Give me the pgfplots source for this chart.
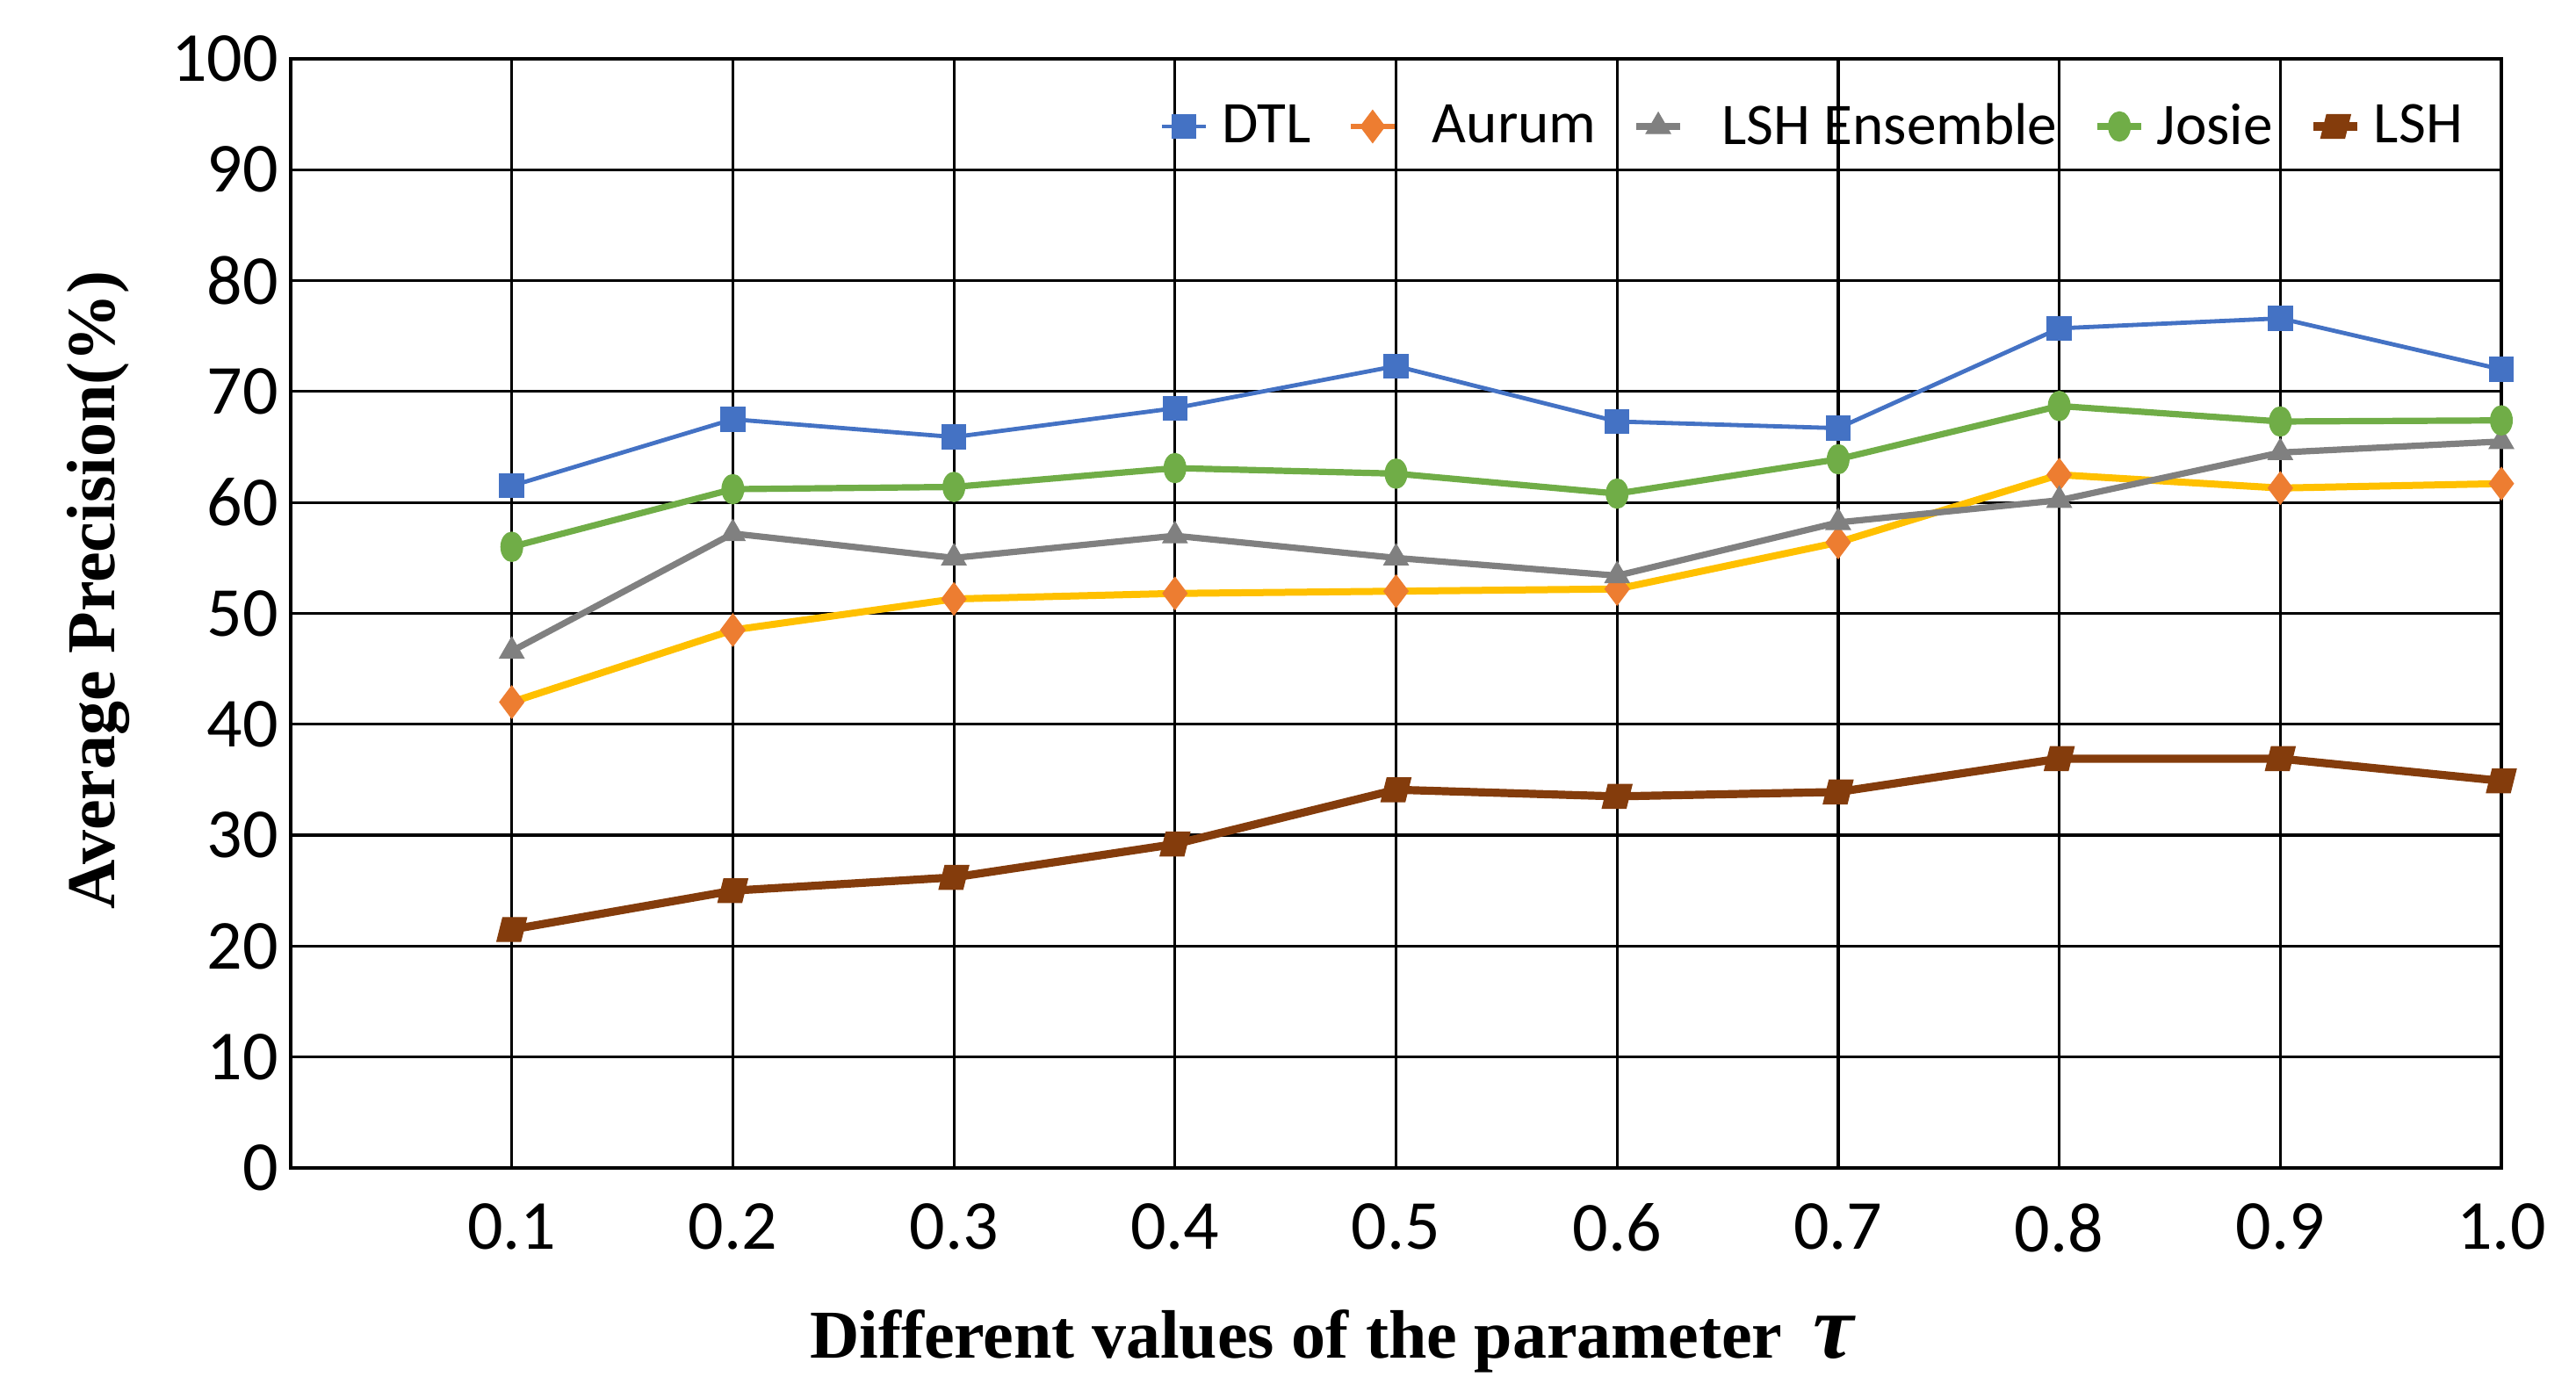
\documentclass[border=0pt]{standalone}
\usepackage{pgfplots}
\pgfplotsset{compat=1.18}
\usepackage{pgfplotstable}
\usepackage{fontspec}
\setmainfont{Carlito}
\newfontfamily\timesfont{Liberation Serif}

\definecolor{dtlblue}{HTML}{4472C4}
\definecolor{aurumyellow}{HTML}{FFC000}
\definecolor{aurumorange}{HTML}{ED7D31}
\definecolor{ensgray}{HTML}{808080}
\definecolor{josiegreen}{HTML}{70AD47}
\definecolor{lshbrown}{HTML}{843C0C}

% precision (%) for each tau
\pgfplotstableread{
x   DTL  Aurum Ens  Josie LSH
0.1 61.5 42.0 46.6 56.0 21.5
0.2 67.5 48.5 57.2 61.2 25.0
0.3 65.9 51.3 55.0 61.4 26.2
0.4 68.5 51.8 57.0 63.1 29.2
0.5 72.3 52.0 55.0 62.6 34.1
0.6 67.3 52.2 53.4 60.8 33.5
0.7 66.7 56.4 58.2 63.9 33.9
0.8 75.7 62.5 60.2 68.7 36.9
0.9 76.6 61.3 64.5 67.3 36.9
1.0 72.0 61.7 65.5 67.4 34.9
}\data

\begin{document}
\begin{tikzpicture}
\begin{axis}[
    width=629.25pt, height=315.75pt, scale only axis,
    xmin=0, xmax=1, ymin=0, ymax=100,
    xtick={0.1,0.2,0.3,0.4,0.5,0.6,0.7,0.8,0.9,1.0},
    xticklabels={0.1,0.2,0.3,0.4,0.5,0.6,0.7,0.8,0.9,1.0},
    ytick={0,10,...,100},
    grid=major,
    major grid style={black, line width=0.8pt},
    axis line style={black, line width=1.1pt},
    major tick length=0pt,
    tick label style={font=\fontsize{20}{24}\selectfont},
    /pgf/number format/assume math mode=true,
    xticklabel style={yshift=-6.6pt},
    xlabel={\timesfont\bfseries Different values of the parameter\hspace{0.45em}{\fontsize{26}{28}\selectfont\itshape τ}},
    ylabel={\timesfont\bfseries Average Precision(\%)},
    label style={font=\fontsize{19.5}{22}\selectfont},
    xlabel style={at={(axis description cs:0.471,-0.156)}, anchor=center},
    ylabel style={at={(axis description cs:-0.087,0.521)}, anchor=center, rotate=0},
    legend columns=5,
    legend cell align=left,
    legend style={at={(axis description cs:0.986,0.939)}, anchor=east,
        draw=none, fill=none, inner sep=0pt,
        font=\fontsize{16.8}{20}\selectfont,
        /tikz/every even column/.append style={column sep=8.5pt}},
    legend image code/.code={\draw[mark repeat=2,mark phase=2]
        plot coordinates {(-6.25pt,0pt) (0pt,0pt) (6.25pt,0pt)};},
]
\coordinate (O) at (axis description cs:0,0);

\addplot[color=dtlblue, line width=1.2pt, mark=square*, mark size=3.4pt,
    mark options={line width=0.3pt}] table[x=x, y=DTL]{\data};
\addlegendentry{\hspace{2pt}DTL}

\addplot[color=aurumyellow, line width=2pt, mark=diamond*, mark size=4.6pt,
    mark options={draw=aurumorange, fill=aurumorange, line width=0.3pt}, forget plot]
    table[x=x, y=Aurum]{\data};
\addlegendimage{color=aurumorange, line width=1.5pt, mark=diamond*, mark size=4.6pt,
    mark options={line width=0.3pt}}
\addlegendentry{\hspace{8pt}Aurum}

\addplot[color=ensgray, line width=1.8pt, mark=triangle*, mark size=4pt,
    mark options={line width=0.3pt}] table[x=x, y=Ens]{\data};
\addlegendentry{\hspace{9pt}LSH Ensemble}

\addplot[color=josiegreen, line width=1.8pt, mark=*, mark size=3.1pt,
    mark options={line width=0.3pt, yscale=1.35}] table[x=x, y=Josie]{\data};
\addlegendentry{\hspace{1.5pt}Josie\hspace{3pt}}

\addplot[color=lshbrown, line width=2.3pt, mark=square*, mark size=3.4pt,
    mark options={line width=0.3pt, xslant=0.25}] table[x=x, y=LSH]{\data};
\addlegendentry{\hspace{1.5pt}LSH}
\end{axis}
\pgfresetboundingbox
\path (O) ++(-82.75pt,-63.5pt) rectangle ++(733.25pt,396pt);
\end{tikzpicture}
\end{document}
